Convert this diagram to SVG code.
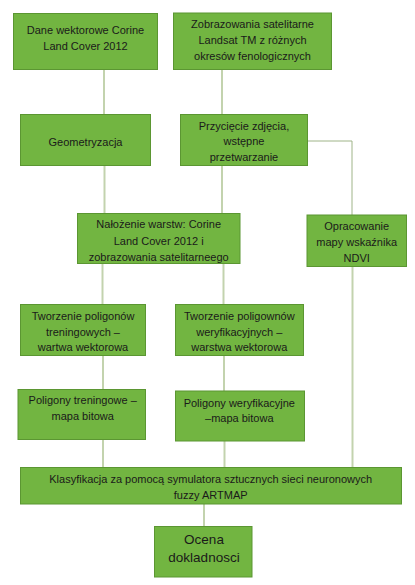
<svg xmlns="http://www.w3.org/2000/svg" width="415" height="585" viewBox="0 0 415 585">
<style>
.box{fill:#72b541;stroke:#5b9632;stroke-width:1}
.t{font-family:"Liberation Sans",Arial,sans-serif;font-size:11px;fill:#1a1a1a;text-anchor:middle;dominant-baseline:central}
.big{font-size:13.5px}
.c{stroke:#c3d3ae;stroke-width:2;fill:none}
.c1{stroke:#9fb488;stroke-width:1;fill:none}
</style>
<rect width="415" height="585" fill="#ffffff"/>
<g id="connectors">
<line class="c" x1="104" y1="70" x2="104" y2="114"/>
<line class="c" x1="222" y1="70" x2="222" y2="114"/>
<line class="c" x1="104.5" y1="166" x2="104.5" y2="213"/>
<line class="c" x1="222" y1="166" x2="222" y2="213"/>
<polyline class="c1" points="308,141 352,141 352,215"/>
<line class="c" x1="102.5" y1="263" x2="102.5" y2="304"/>
<line class="c" x1="223.5" y1="263" x2="223.5" y2="304"/>
<line class="c" x1="103" y1="356" x2="103" y2="389"/>
<line class="c" x1="224" y1="356" x2="224" y2="391"/>
<line class="c" x1="103" y1="440" x2="103" y2="467"/>
<line class="c" x1="224.5" y1="441" x2="224.5" y2="467"/>
<line class="c" x1="352.5" y1="267" x2="352.5" y2="467"/>
<line class="c" x1="204" y1="504" x2="204" y2="526"/>
</g>
<g id="n1"><rect class="box" x="13.5" y="13.5" width="144" height="56"/>
<text class="t" x="85.5"><tspan x="85.5" y="30">Dane wektorowe Corine</tspan><tspan x="85.5" y="45.7">Land Cover 2012</tspan></text></g>
<g id="n2"><rect class="box" x="173.5" y="13" width="158" height="56.5"/>
<text class="t"><tspan x="252.5" y="24.3">Zobrazowania satelitarne</tspan><tspan x="252.5" y="40">Landsat TM z różnych</tspan><tspan x="252.5" y="55.7">okresów fenologicznych</tspan></text></g>
<g id="n3"><rect class="box" x="20.5" y="114.5" width="130" height="51"/>
<text class="t" x="85.5" y="142.3">Geometryzacja</text></g>
<g id="n4"><rect class="box" x="180.5" y="114.5" width="127" height="51"/>
<text class="t"><tspan x="244" y="126">Przycięcie zdjęcia,</tspan><tspan x="244" y="141.3">wstępne</tspan><tspan x="244" y="157">przetwarzanie</tspan></text></g>
<g id="n5"><rect class="box" x="77.5" y="213.5" width="162.5" height="50"/>
<text class="t"><tspan x="158.7" y="224.3">Nałożenie warstw: Corine</tspan><tspan x="158.7" y="240.7">Land Cover 2012 i</tspan><tspan x="158.7" y="256.7">zobrazowania satelitarneego</tspan></text></g>
<g id="n6"><rect class="box" x="307" y="215" width="99.5" height="51.5"/>
<text class="t"><tspan x="356.7" y="226">Opracowanie</tspan><tspan x="356.7" y="242.3">mapy wskaźnika</tspan><tspan x="356.7" y="258.3">NDVI</tspan></text></g>
<g id="n7"><rect class="box" x="20.5" y="304.5" width="125" height="51"/>
<text class="t"><tspan x="83" y="316">Tworzenie poligonów</tspan><tspan x="83" y="332">treningowych –</tspan><tspan x="83" y="347.3">wartwa wektorowa</tspan></text></g>
<g id="n8"><rect class="box" x="175.5" y="304.5" width="128" height="51"/>
<text class="t"><tspan x="239.3" y="316">Tworzenie poligownów</tspan><tspan x="239.3" y="332">weryfikacyjnych –</tspan><tspan x="239.3" y="347.3">warstwa wektorowa</tspan></text></g>
<g id="n9"><rect class="box" x="18" y="389.5" width="127.5" height="50"/>
<text class="t"><tspan x="82.7" y="400">Poligony treningowe –</tspan><tspan x="82.7" y="415.7">mapa bitowa</tspan></text></g>
<g id="n10"><rect class="box" x="175.5" y="391" width="129" height="50"/>
<text class="t"><tspan x="239.3" y="402.7">Poligony weryfikacyjne</tspan><tspan x="239.3" y="417.7">–mapa bitowa</tspan></text></g>
<g id="n11"><rect class="box" x="20.5" y="467.5" width="381" height="36.5"/>
<text class="t"><tspan x="210.7" y="479.3">Klasyfikacja za pomocą symulatora sztucznych sieci neuronowych</tspan><tspan x="210.7" y="495">fuzzy ARTMAP</tspan></text></g>
<g id="n12"><rect class="box" x="154.5" y="526.5" width="97.5" height="50.5"/>
<text class="t big"><tspan x="204" y="539.3">Ocena</tspan><tspan x="204" y="556.7">dokladnosci</tspan></text></g>
</svg>
